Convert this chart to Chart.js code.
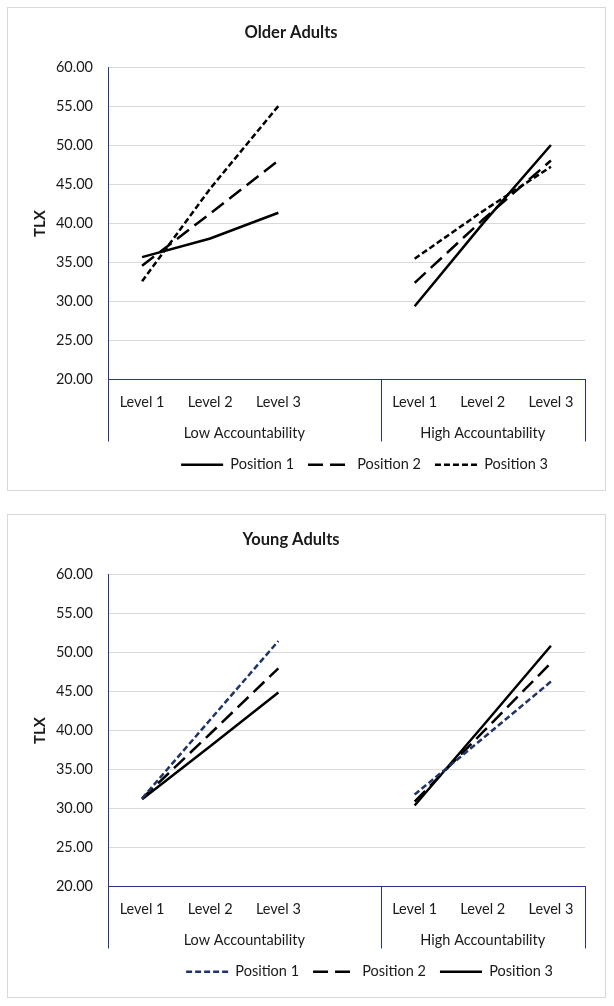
<!DOCTYPE html>
<html>
<head>
<meta charset="utf-8">
<script src="https://cdn.jsdelivr.net/npm/chart.js@4.4.1/dist/chart.umd.min.js"></script>
<style>
  body { margin: 0; background: #fff; }
  .box { position: absolute; left: 7px; width: 597px; height: 482px; border: 1px solid #d9d9d9; }
  #box1 { top: 7px; }
  #box2 { top: 514px; }
  canvas { display: block; }
</style>
</head>
<body>
<div class="box" id="box1"><canvas id="older" width="597" height="482"></canvas></div>
<div class="box" id="box2"><canvas id="young" width="597" height="482"></canvas></div>
<script>
// categories: 4 slots under Low (last one empty), 3 under High
const levels = ["Level 1", "Level 2", "Level 3", "", "Level 1", "Level 2", "Level 3"];
const groups = ["Low Accountability", "High Accountability"];
const seriesNames = ["Position 1", "Position 2", "Position 3"];
const yMin = 20;
const yMax = 60;
const yStep = 5;

// Older adults
const olderPos1 = [35.7, 38.1, 41.4, null, 29.4, 40.0, 50.1];
const olderPos2 = [34.6, 41.3, 48.1, null, 32.4, 40.5, 48.1];
const olderPos3 = [32.6, 44.5, 55.1, null, 35.5, 41.6, 47.3];

// Young adults
const youngPos1 = [31.3, 41.4, 51.5, null, 31.8, 39.0, 46.3];
const youngPos2 = [31.3, 39.6, 48.0, null, 30.9, 39.8, 48.7];
const youngPos3 = [31.2, 38.0, 44.9, null, 30.4, 40.6, 50.9];

const axisColor = "#24348a";
const gridColor = "#d9d9d9";
const textColor = "#1a1a1a";
const navy = "#1f3468";
const SOLID = [];
const LONG_DASH = [15, 7];
const SHORT_DASH = [6, 3];
const FONT = "Lato";

// group labels and the box lines under the category axis,
// plus a sideways nudge for title and legend
const groupAxis = {
    id: "groupAxis",
    afterLayout(chart, args, opts) {
        if (chart.titleBlock) {
            chart.titleBlock.left += opts.titleShift;
            chart.titleBlock.right += opts.titleShift;
        }
        if (chart.legend) {
            chart.legend.left += opts.legendShift;
            chart.legend.right += opts.legendShift;
        }
    },
    afterDraw(chart) {
        const { ctx, chartArea: a, scales: { x } } = chart;
        const split = (x.getPixelForValue(3) + x.getPixelForValue(4)) / 2;
        const bottom = a.bottom + 62;
        ctx.save();
        ctx.strokeStyle = axisColor;
        ctx.lineWidth = 1;
        ctx.beginPath();
        [a.left, split, a.right].forEach((px) => {
            const xx = Math.round(px) + 0.5;
            ctx.moveTo(xx, a.bottom);
            ctx.lineTo(xx, bottom);
        });
        ctx.stroke();
        ctx.fillStyle = textColor;
        ctx.font = "14.5px " + FONT;
        ctx.textAlign = "center";
        ctx.textBaseline = "middle";
        ctx.fillText(groups[0], (a.left + split) / 2, a.bottom + 54);
        ctx.fillText(groups[1], (split + a.right) / 2, a.bottom + 54);
        ctx.restore();
    },
};

function makeChart(id, title, series, colors, dashes, legendShift) {
    return new Chart(document.getElementById(id), {
        type: "line",
        data: {
            labels: levels,
            datasets: series.map((values, i) => ({
                label: seriesNames[i],
                data: values,
                borderColor: colors[i],
                backgroundColor: colors[i],
                borderDash: dashes[i],
                borderWidth: 2.5,
                pointRadius: 0,
                tension: 0,
                fill: false,
            })),
        },
        options: {
            responsive: false,
            animation: false,
            layout: { padding: { top: 0, left: 0, right: 20, bottom: 8 } },
            plugins: {
                title: {
                    display: true,
                    text: title,
                    color: textColor,
                    font: { family: FONT, size: 16.5, weight: "bold" },
                    padding: { top: 15, bottom: 25 },
                },
                legend: {
                    position: "bottom",
                    labels: {
                        usePointStyle: true,
                        pointStyle: "line",
                        pointStyleWidth: 42,
                        padding: 14,
                        color: textColor,
                        font: { family: FONT, size: 14.5 },
                        // take the dash and width of the line itself, not of its points
                        generateLabels(chart) {
                            const base = Chart.defaults.plugins.legend.labels.generateLabels(chart);
                            return base.map((item) => {
                                const ds = chart.data.datasets[item.datasetIndex];
                                return {
                                    ...item,
                                    lineDash: ds.borderDash,
                                    lineWidth: ds.borderWidth,
                                    strokeStyle: ds.borderColor,
                                };
                            });
                        },
                    },
                },
                tooltip: { enabled: false },
                groupAxis: { titleShift: -5.5, legendShift: legendShift },
            },
            scales: {
                x: {
                    type: "category",
                    offset: true,
                    grid: { display: false },
                    border: { color: axisColor, width: 1 },
                    ticks: {
                        color: textColor,
                        font: { family: FONT, size: 14.5 },
                        padding: 6,
                        maxRotation: 0,
                        autoSkip: false,
                    },
                    afterFit(scale) { scale.height = 64; },
                },
                y: {
                    min: yMin,
                    max: yMax,
                    ticks: {
                        stepSize: yStep,
                        color: textColor,
                        font: { family: FONT, size: 14.5 },
                        padding: 15,
                        callback: (v) => v.toFixed(2),
                    },
                    grid: { color: gridColor, drawTicks: false },
                    border: { color: axisColor, width: 1 },
                    title: {
                        display: true,
                        text: "TLX",
                        color: textColor,
                        font: { family: FONT, size: 15, weight: "bold" },
                        padding: { top: 23, bottom: 0 },
                    },
                    afterFit(scale) { scale.width = 100; },
                },
            },
        },
        plugins: [groupAxis],
    });
}

makeChart("older", "Older Adults",
    [olderPos1, olderPos2, olderPos3],
    ["#000", "#000", "#000"],
    [SOLID, LONG_DASH, SHORT_DASH], 68);

makeChart("young", "Young Adults",
    [youngPos1, youngPos2, youngPos3],
    [navy, "#000", "#000"],
    [SHORT_DASH, LONG_DASH, SOLID], 73);
</script>
</body>
</html>
